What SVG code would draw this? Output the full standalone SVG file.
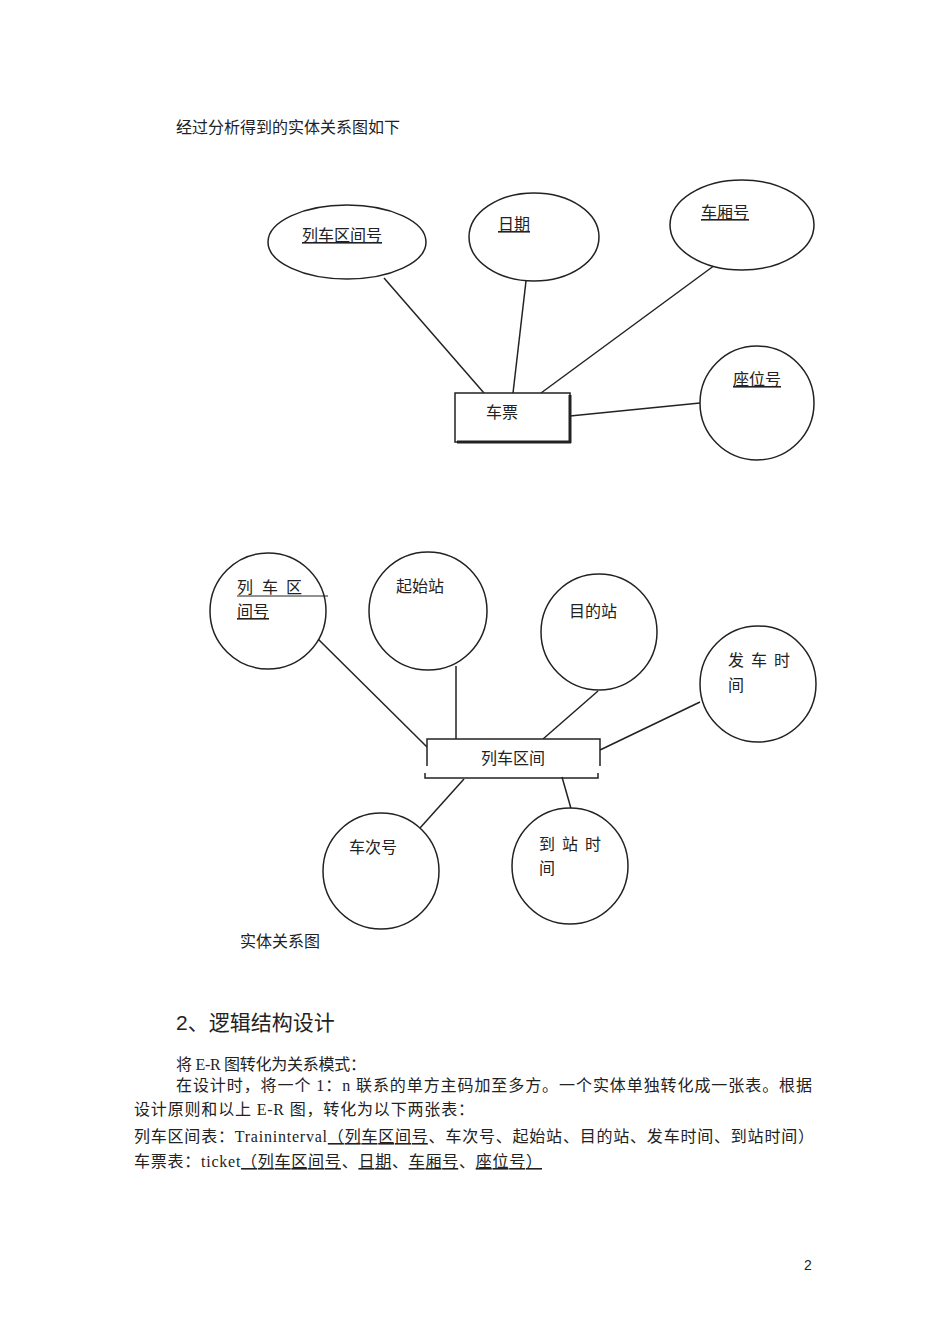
<svg xmlns="http://www.w3.org/2000/svg" width="950" height="1344" viewBox="0 0 950 1344">
<style>
text{font-family:"Liberation Serif","Noto Sans CJK SC",serif;fill:#222;font-size:16px}
.s{fill:#fff;stroke:#222;stroke-width:1.5}
.c line{stroke:#222;stroke-width:1.5}
.u{text-decoration:underline}
.h{font-family:"Liberation Sans","Noto Sans CJK SC",sans-serif;font-size:21px}
</style>
<rect width="950" height="1344" fill="#fff"/>
<text x="176" y="133">经过分析得到的实体关系图如下</text>
<g class="c">
<line x1="384" y1="278" x2="484" y2="393"/>
<line x1="526" y1="281" x2="513" y2="393"/>
<line x1="715" y1="265" x2="541" y2="393"/>
<line x1="700" y1="403" x2="570" y2="416"/>
<line x1="316" y1="637" x2="427" y2="747"/>
<line x1="456" y1="666" x2="456" y2="739"/>
<line x1="598" y1="691" x2="543" y2="739"/>
<line x1="700" y1="702" x2="600" y2="750"/>
<line x1="464" y1="779" x2="420" y2="828"/>
<line x1="562" y1="777" x2="572" y2="812"/>
</g>
<g id="ticket"><rect class="s" x="455" y="393" width="115" height="49"/><line x1="570" y1="395" x2="570" y2="443" stroke="#222" stroke-width="3"/><line x1="457" y1="442" x2="571" y2="442" stroke="#222" stroke-width="3"/><text x="486" y="418">车票</text></g>
<g id="a1"><ellipse class="s" cx="347" cy="242" rx="79" ry="37"/><text x="302" y="241" class="u">列车区间号</text></g>
<g id="a2"><ellipse class="s" cx="534" cy="237" rx="65" ry="44"/><text x="498" y="230" class="u">日期</text></g>
<g id="a3"><ellipse class="s" cx="742" cy="225" rx="72" ry="45"/><text x="701" y="218" class="u">车厢号</text></g>
<g id="a4"><circle class="s" cx="757" cy="403" r="57"/><text x="733" y="385" class="u">座位号</text></g>
<g id="interval"><rect x="427" y="739" width="173" height="34" fill="#fff"/><path d="M427 766V739H600V766" fill="none" stroke="#222" stroke-width="1.5"/><path d="M425 773V778H598V773" fill="none" stroke="#222" stroke-width="1.5"/><text x="481" y="764">列车区间</text></g>
<g id="b1"><circle class="s" cx="268" cy="611" r="58"/><text y="593"><tspan x="237">列</tspan><tspan x="262">车</tspan><tspan x="286">区</tspan></text><line x1="237" y1="596" x2="328" y2="596" stroke="#222" stroke-width="1"/><text x="237" y="617" class="u">间号</text></g>
<g id="b2"><circle class="s" cx="428" cy="611" r="59"/><text x="396" y="592">起始站</text></g>
<g id="b3"><circle class="s" cx="599" cy="632" r="58"/><text x="569" y="617">目的站</text></g>
<g id="b4"><circle class="s" cx="758" cy="684" r="58"/><text y="666"><tspan x="728">发</tspan><tspan x="751">车</tspan><tspan x="774">时</tspan></text><text x="728" y="691">间</text></g>
<g id="b5"><circle class="s" cx="381" cy="871" r="58"/><text x="349" y="853">车次号</text></g>
<g id="b6"><circle class="s" cx="570" cy="866" r="58"/><text y="850"><tspan x="539">到</tspan><tspan x="562">站</tspan><tspan x="585">时</tspan></text><text x="539" y="874">间</text></g>
<text x="240" y="947">实体关系图</text>
<text x="176" y="1030" class="h">2、逻辑结构设计</text>
<text x="176" y="1070" textLength="190">将 E-R 图转化为关系模式：</text>
<text x="176" y="1091" textLength="636">在设计时，将一个 1：n 联系的单方主码加至多方。一个实体单独转化成一张表。根据</text>
<text x="134" y="1115" textLength="340">设计原则和以上 E-R 图，转化为以下两张表：</text>
<text x="134" y="1142" textLength="680">列车区间表：Traininterval<tspan class="u">（列车区间号</tspan>、车次号、起始站、目的站、发车时间、到站时间）</text>
<text x="134" y="1167" textLength="408">车票表：ticket<tspan class="u">（列车区间号</tspan>、<tspan class="u">日期</tspan>、<tspan class="u">车厢号</tspan>、<tspan class="u">座位号）</tspan></text>
<text x="804" y="1270" style="font-family:'Liberation Sans',sans-serif;font-size:14px">2</text>
</svg>
